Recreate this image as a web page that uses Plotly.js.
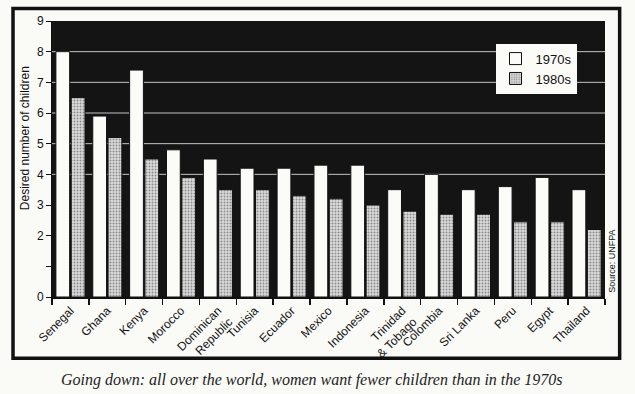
<!DOCTYPE html>
<html>
<head>
<meta charset="utf-8">
<script src="https://cdn.plot.ly/plotly-3.0.1.min.js"></script>
<style>html,body{margin:0;padding:0;background:#fafaf7;}#chart{width:635px;height:394px;}</style>
</head>
<body>
<div id="chart"></div>
<script>
const countries = ["Senegal","Ghana","Kenya","Morocco","Dominican<br>Republic","Tunisia","Ecuador","Mexico","Indonesia","Trinidad<br>& Tobago","Colombia","Sri Lanka","Peru","Egypt","Thailand"];
const values1970s = [8.0, 5.9, 7.4, 4.8, 4.5, 4.2, 4.2, 4.3, 4.3, 3.5, 4.0, 3.5, 3.6, 3.9, 3.5];
const values1980s = [6.5, 5.2, 4.5, 3.9, 3.5, 3.5, 3.3, 3.2, 3.0, 2.8, 2.7, 2.7, 2.45, 2.45, 2.2];
const yTickVals = [0,1,2,3,4,5,6,7,8,9];
const yTickText = ["0","","2","3","4","5","6","7","8","9"];
const gridVals = [4,5,6,7,8];

const traces = [
  {type:'bar', name:'1970s', x:countries, y:values1970s,
   marker:{color:'#fbfbf8', line:{width:1, color:'#111'}}},
  {type:'bar', name:'1980s', x:countries, y:values1980s,
   marker:{color:'#cfcfcf', line:{width:1, color:'#111'},
     pattern:{shape:'.', fgcolor:'#8c8c8c', bgcolor:'#dcdcdc', size:3, solidity:0.35}}}
];

const shapes = gridVals.map(v => ({type:'line', xref:'paper', yref:'y', x0:0, x1:1, y0:v, y1:v,
  line:{color:'#c4c4c4', width:1}, layer:'below'}));
shapes.push({type:'rect', xref:'paper', yref:'paper', x0:-0.0705, x1:1.0265, y0:-0.222, y1:1.045,
  line:{color:'#111', width:3.5}, fillcolor:'rgba(0,0,0,0)', layer:'above'});

const layout = {
  width:635, height:394,
  margin:{l:52, r:30, t:21, b:97},
  paper_bgcolor:'#fafaf7',
  plot_bgcolor:'#141414',
  barmode:'group', bargap:0.17, bargroupgap:0.1,
  font:{family:'Liberation Sans, Arial, sans-serif', color:'#111'},
  showlegend:true,
  legend:{x:0.802, y:0.918, xanchor:'left', yanchor:'top', bgcolor:'#fbfbf8',
    borderwidth:0, font:{size:13, color:'#111'}, tracegroupgap:4, itemwidth:30},
  xaxis:{type:'category', tickangle:-45, tickfont:{size:12, color:'#111'},
    ticks:'outside', ticklen:6, tickcolor:'#111', tickwidth:1.5, tickson:'boundaries',
    showline:true, linecolor:'#111', linewidth:2, showgrid:false, automargin:false},
  yaxis:{range:[0,9], tickvals:yTickVals, ticktext:yTickText, showgrid:false, zeroline:false,
    ticks:'outside', ticklen:5, tickcolor:'#111', tickfont:{size:12, color:'#111'},
    showline:true, linecolor:'#111', linewidth:1, automargin:false},
  shapes:shapes,
  annotations:[
    {text:'Desired number of children', xref:'paper', yref:'paper', x:-0.049, y:0.575,
     textangle:-90, showarrow:false, font:{size:12, color:'#111'}, xanchor:'center', yanchor:'middle'},
    {text:'Source: UNFPA', xref:'paper', yref:'paper', x:1.012, y:0.13,
     textangle:-90, showarrow:false, font:{size:9, color:'#111'}, xanchor:'center', yanchor:'middle'},
    {text:'<i>Going down: all over the world, women want fewer children than in the 1970s</i>',
     xref:'paper', yref:'paper', x:0.47, y:-0.30, showarrow:false,
     font:{family:'Liberation Serif, Times New Roman, serif', size:16, color:'#222'},
     xanchor:'center', yanchor:'middle'}
  ]
};

Plotly.newPlot('chart', traces, layout, {displayModeBar:false, staticPlot:true});
</script>
</body>
</html>
